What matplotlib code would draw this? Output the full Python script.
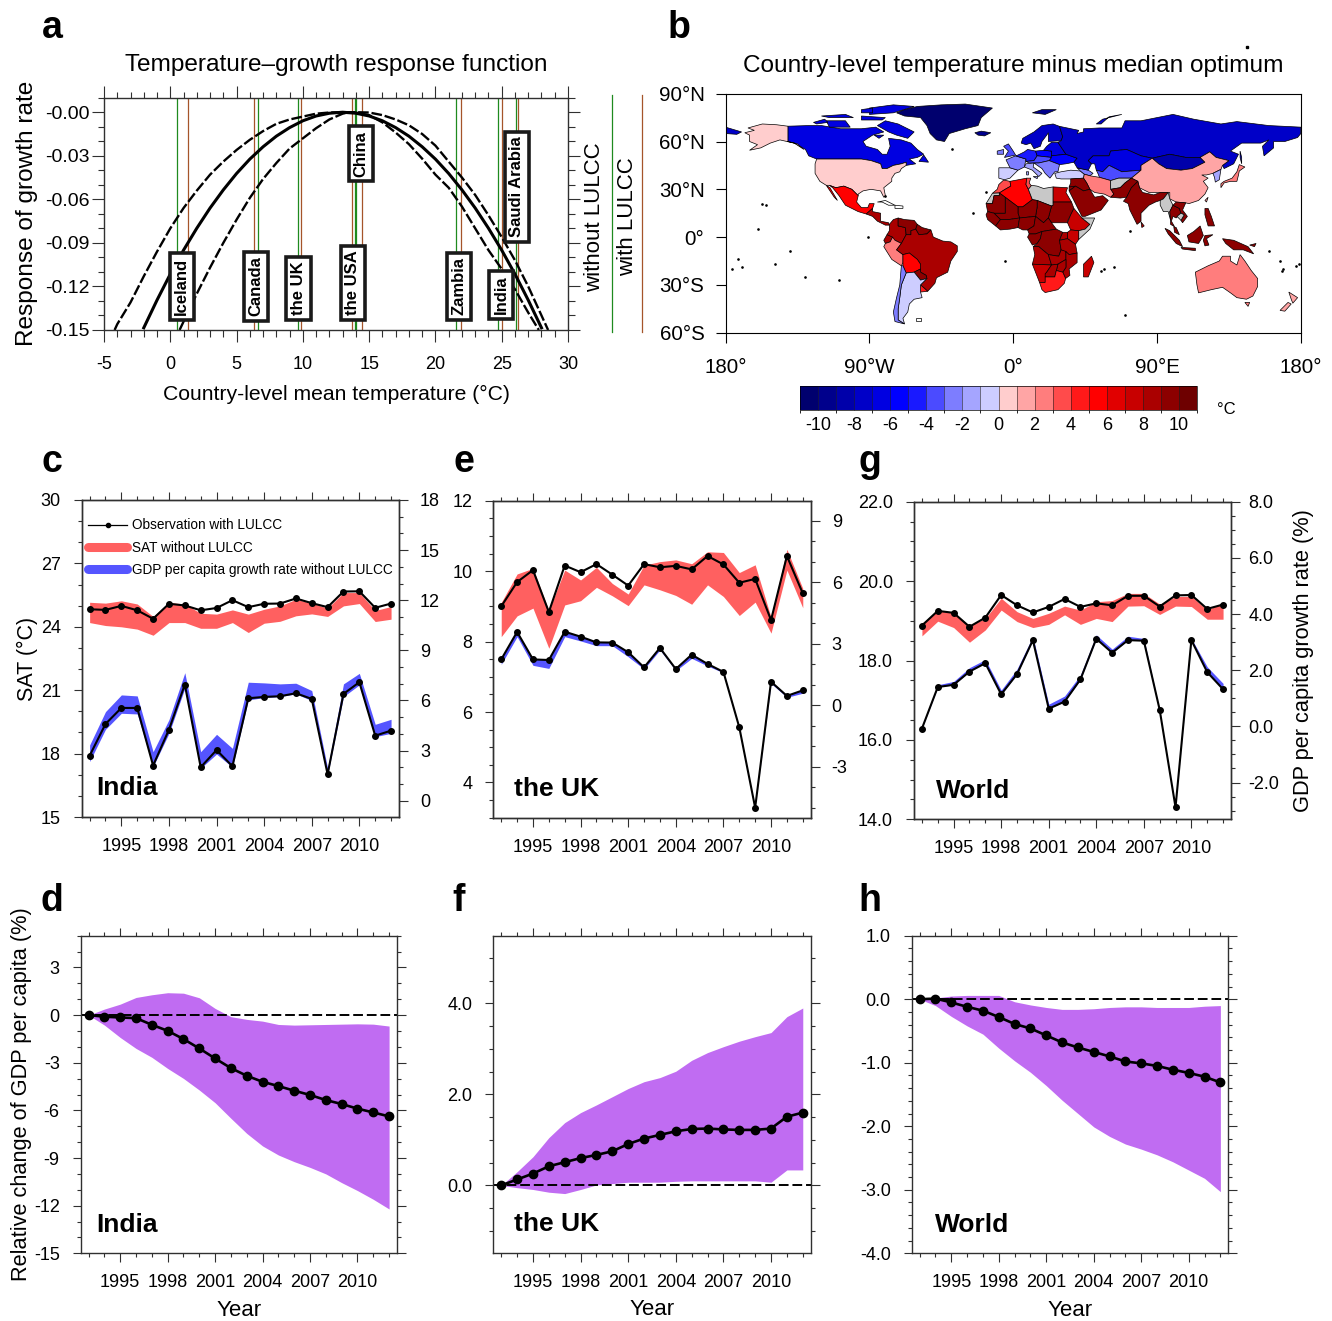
import matplotlib
matplotlib.use("Agg")
import matplotlib.pyplot as plt
import numpy as np
from matplotlib.colors import BoundaryNorm, ListedColormap
from matplotlib.lines import Line2D
from matplotlib.ticker import MultipleLocator

plt.rcParams["font.family"] = ["Liberation Sans", "DejaVu Sans"]

W, H = 1332, 1321

# panel a
curve_x = [-2, -1, 0, 1, 2, 3, 4, 5, 6, 7, 8, 9, 10, 11, 12, 13, 14, 15, 16, 17, 18, 19, 20, 21, 22, 23, 24, 25, 26, 27, 28]
curve_mid = [-.1485, -.1294, -.1115, -.0950, -.0799, -.066, -.0535, -.0422, -.0323, -.0238, -.0165, -.0106, -.0059, -.0026,
             -.0007, 0, -.0007, -.0026, -.0059, -.0106, -.0165, -.0238, -.0323, -.0422, -.0535, -.066, -.0799, -.0950,
             -.1115, -.1294, -.1485]
upper_x = [-4.2, -4, -3, -2, -1, 0, 1, 2, 3, 4, 5, 6, 7, 8, 9, 10, 11, 12, 13, 14, 15, 16, 17, 18, 19, 20, 21, 22, 23, 24, 25, 26, 27, 28, 28.5]
upper_y = [-.15, -.146, -.131, -.113, -.096, -.08, -.066, -.054, -.043, -.034, -.026, -.019, -.013, -.008, -.005, -.003, -.001,
           -.0002, 0, 0, -.0002, -.002, -.005, -.009, -.015, -.023, -.034, -.045, -.057, -.071, -.086, -.102, -.12, -.14, -.15]
lower_x = [0.7, 2, 3, 4, 5, 6, 7, 8, 9, 10, 11, 12, 13, 13.5, 14, 15, 16, 17, 18, 19, 20, 21, 22, 23, 24, 25, 26, 27, 27.8]
lower_y = [-.15, -.125, -.107, -.09, -.074, -.059, -.046, -.035, -.025, -.018, -.011, -.005, -.001, 0, -.0003, -.002, -.007,
           -.014, -.022, -.032, -.043, -.052, -.065, -.08, -.095, -.108, -.122, -.138, -.15]
countries = ["Iceland", "Canada", "the UK", "the USA", "China", "Zambia", "India", "Saudi Arabia"]
temp_without = [0.49, 6.59, 9.63, 13.92, 14.0, 21.57, 24.75, 26.05]
temp_with = [1.35, 6.3, 9.83, 13.67, 14.46, 21.95, 25.0, 26.25]
label_x = [0.87, 6.46, 9.67, 13.76, 14.4, 21.76, 24.97, 26.14]
label_y = [-.12, -.12, -.1214, -.1175, -.0287, -.12, -.126, -.0513]

# panels c-h
years = np.arange(1993, 2013)
tick_years = [1995, 1998, 2001, 2004, 2007, 2010]

india_sat = [24.83, 24.8, 24.99, 24.78, 24.38, 25.09, 25.01, 24.78, 24.89, 25.26, 24.93, 25.09, 25.1, 25.34, 25.12, 24.93, 25.67, 25.68, 24.9, 25.1]
india_sat_hi = [25.16, 25.12, 25.23, 25.08, 24.49, 25.15, 25.08, 24.64, 24.6, 24.8, 24.6, 24.83, 24.99, 25.3, 25.12, 24.88, 25.62, 25.62, 24.77, 24.96]
india_sat_lo = [24.2, 24.06, 24.0, 23.89, 23.6, 24.2, 24.2, 23.93, 23.93, 24.2, 23.73, 24.17, 24.26, 24.52, 24.61, 24.49, 24.99, 25.1, 24.25, 24.36]
india_gdp = [2.69, 4.59, 5.55, 5.55, 2.1, 4.25, 6.95, 2.0, 3.03, 2.06, 6.13, 6.21, 6.25, 6.43, 6.09, 1.58, 6.39, 7.09, 3.89, 4.19]
india_gdp_hi = [3.33, 5.33, 6.33, 6.27, 2.93, 4.85, 7.66, 2.93, 3.97, 3.13, 7.09, 7.05, 6.99, 7.03, 6.59, 1.94, 6.99, 7.62, 4.57, 4.87]
india_gdp_lo = [2.34, 4.27, 5.23, 5.19, 2.04, 4.03, 6.73, 1.94, 2.79, 2.0, 6.03, 6.17, 6.23, 6.39, 5.99, 1.54, 6.23, 6.93, 3.83, 4.03]

uk_sat = [9.0, 9.69, 10.03, 8.84, 10.16, 9.97, 10.2, 9.9, 9.59, 10.2, 10.11, 10.15, 10.05, 10.43, 10.19, 9.67, 9.78, 8.61, 10.43, 9.37]
uk_sat_hi = [9.11, 9.92, 10.08, 8.88, 10.03, 9.75, 10.11, 9.65, 9.35, 10.17, 10.27, 10.32, 10.21, 10.55, 10.53, 9.96, 10.18, 8.69, 10.62, 9.51]
uk_sat_lo = [8.14, 8.73, 8.95, 7.81, 9.04, 9.16, 9.54, 9.3, 9.02, 9.61, 9.47, 9.31, 9.06, 9.61, 9.28, 8.74, 9.12, 8.24, 10.03, 8.96]
uk_gdp = [2.24, 3.58, 2.24, 2.21, 3.59, 3.35, 3.07, 3.06, 2.59, 1.85, 2.8, 1.77, 2.47, 2.02, 1.63, -1.07, -4.99, 1.15, 0.46, 0.73]
uk_gdp_hi = [2.26, 3.6, 2.26, 2.23, 3.61, 3.37, 3.09, 3.08, 2.61, 1.87, 2.82, 1.79, 2.49, 2.04, 1.65, -1.07, -4.99, 1.18, 0.49, 0.76]
uk_gdp_lo = [2.0, 3.35, 1.95, 1.8, 3.35, 3.14, 2.91, 2.91, 2.37, 1.77, 2.7, 1.69, 2.29, 1.92, 1.59, -1.07, -4.99, 1.07, 0.39, 0.59]

world_sat = [18.88, 19.25, 19.2, 18.85, 19.08, 19.65, 19.39, 19.21, 19.35, 19.55, 19.35, 19.44, 19.39, 19.63, 19.63, 19.36, 19.64, 19.65, 19.3, 19.41]
world_sat_hi = [18.94, 19.25, 19.2, 18.88, 19.06, 19.57, 19.23, 19.06, 19.19, 19.37, 19.27, 19.48, 19.51, 19.69, 19.69, 19.42, 19.61, 19.62, 19.27, 19.46]
world_sat_lo = [18.62, 18.99, 18.83, 18.46, 18.77, 19.27, 18.98, 18.83, 18.91, 19.15, 18.91, 19.06, 18.98, 19.37, 19.38, 19.16, 19.37, 19.36, 19.04, 19.04]
world_gdp = [-0.08, 1.4, 1.48, 1.95, 2.25, 1.14, 1.86, 3.07, 0.63, 0.88, 1.67, 3.12, 2.62, 3.07, 3.05, 0.59, -2.88, 3.07, 1.93, 1.32]
world_gdp_hi = [-0.08, 1.48, 1.6, 2.09, 2.38, 1.29, 2.04, 3.21, 0.79, 1.08, 1.83, 3.26, 2.75, 3.21, 3.13, 0.59, -2.88, 3.13, 2.12, 1.53]

india_rel = [0, -0.1, -0.15, -0.19, -0.61, -0.99, -1.51, -2.1, -2.73, -3.34, -3.82, -4.2, -4.47, -4.76, -5.03, -5.35, -5.6, -5.89, -6.13, -6.38]
india_rel_hi = [0, .38, .69, 1.11, 1.28, 1.41, 1.38, 1.09, .42, -.1, -.27, -.38, -.59, -.63, -.61, -.59, -.57, -.55, -.57, -.69]
india_rel_lo = [0, -.63, -1.41, -2.1, -2.66, -3.36, -3.99, -4.72, -5.52, -6.5, -7.45, -8.24, -8.81, -9.23, -9.59, -10.0, -10.55, -11.05, -11.6, -12.21]
uk_rel = [0, .13, .26, .42, .51, .6, .67, .75, .91, 1.03, 1.11, 1.19, 1.24, 1.25, 1.23, 1.22, 1.22, 1.25, 1.51, 1.6]
uk_rel_hi = [0, .3, .63, 1.05, 1.38, 1.6, 1.77, 1.95, 2.13, 2.28, 2.37, 2.51, 2.75, 2.92, 3.05, 3.17, 3.27, 3.36, 3.71, 3.9]
uk_rel_lo = [0, -.05, -.09, -.15, -.18, -.09, .01, .04, .07, .07, .07, .09, .1, .1, .1, .1, .1, .07, .34, .34]
world_rel = [0, .01, -.05, -.12, -.18, -.28, -.39, -.46, -.57, -.68, -.76, -.83, -.9, -.98, -1.01, -1.05, -1.11, -1.16, -1.22, -1.31]
world_rel_hi = [0, .02, .05, .06, .06, .06, -.04, -.09, -.13, -.16, -.16, -.15, -.13, -.12, -.12, -.13, -.13, -.13, -.11, -.1]
world_rel_lo = [0, -.1, -.27, -.42, -.55, -.77, -.97, -1.15, -1.36, -1.59, -1.8, -2.01, -2.16, -2.28, -2.36, -2.45, -2.56, -2.69, -2.82, -3.03]

# panel b: colour levels and coarse country outlines (lon, lat)
level_edges = np.arange(-11, 12)
level_colors = ["#00006e", "#00008c", "#0000aa", "#0000c8", "#0000e1", "#0000ff", "#1919ff", "#4b4bff", "#7d7dff", "#a5a5ff",
                "#cdcdff", "#ffcdcd", "#ffa5a5", "#ff7d7d", "#ff4b4b", "#ff1919", "#ff0000", "#e10000", "#c80000", "#aa0000",
                "#8c0000", "#6e0000"]
country_temp = {
    "Greenland": -10.5, "Iceland": -9.5, "Svalbard": -9.5, "Canada": -6.5, "Baffin": -6.5, "Victoria": -6.5, "Ellesmere": -6.5,
    "Banks": -6.5, "Devon": -6.5, "Newfoundland": -6.5, "Southampton": -6.5, "Axel": -6.5, "Parry": -6.5, "USA": 0.5, "Alaska": 0.5,
    "Mexico": 5.5, "Baja": 5.5, "CentralAm": 8.5, "Colombia": 8.5,
    "Venezuela": 9.5, "Guianas": 9.5, "Ecuador": 8.5, "Peru": 2.5, "Brazil": 8.5, "Bolivia": 5.5, "Paraguay": 9.5,
    "Uruguay": 4.5, "Argentina": -0.5, "Chile": -2.5, "Morocco": 3.5, "WSahara": None, "Algeria": 5.5, "Tunisia": 3.5,
    "Libya": None, "Egypt": 7.5, "Sudan": 9.5, "Chad": 9.5, "Niger": 9.5, "Mali": 9.5, "Mauritania": 9.5, "Senegal": 9.5,
    "Guinea": 9.5, "Nigeria": 9.5, "Cameroon": 9.5, "Gabon": 9.5, "DRC": 9.5, "Ethiopia": 7.5, "Somalia": None, "Kenya": 7.5,
    "Uganda": 8.5, "Tanzania": 8.5, "Angola": 8.5, "Zambia": 8.5, "Mozambique": 8.5, "Zimbabwe": 8.5, "Namibia": 7.5,
    "Botswana": 8.5, "SouthAfrica": 4.5, "Madagascar": 7.5, "Spain": -0.5, "France": -2.5, "UK": -3.5, "Ireland": -2.5,
    "Germany": -4.5, "Poland": -5.5, "Baltics": -6.5, "Ukraine": -5.5, "CentralEu": -3.5, "Italy": -1.5, "Sicily": -1.5,
    "Sardinia": -1.5, "Balkans": -2.5, "Caucasus": -2.5, "Levant": 9.5,
    "Turkey": -0.5, "Nordic": -7.5, "Russia": -7.5, "Chukotka": -7.5, "Sakhalin": -7.5, "NovayaZ": -7.5, "Kazakhstan": -6.5,
    "Uzbek": -3.5, "Mongolia": -8.5, "China": 1.5, "Korea": -1.5, "Taiwan": 1.5, "Japan": 2.5, "Iran": 2.5, "Iraq": 9.5, "Saudi": 9.5,
    "Afghanistan": None, "Pakistan": 9.5, "India": 9.5, "SriLanka": 8.5, "Myanmar": None, "Thailand": 9.5, "Vietnam": 9.5,
    "Cambodia": None, "Malaya": 9.5, "Sumatra": 9.5, "Java": 9.5, "Borneo": 9.5, "Sulawesi": 9.5, "Philippines": 9.5,
    "NewGuinea": 9.5, "NewBritain": 9.5, "Australia": 2.5, "Tasmania": 2.5, "NZNorth": 1.5, "NZSouth": 1.5,
}
outlines = {
    "Greenland": [(-73, 78), (-68, 80), (-60, 82), (-45, 83), (-30, 83.5), (-13, 81), (-20, 75), (-22, 70), (-30, 68), (-40, 65), (-43, 60), (-48, 61), (-52, 65), (-54, 70), (-58, 75), (-68, 76)],
    "Iceland": [(-24, 65.5), (-20, 66.5), (-14, 65.5), (-18, 63.5), (-22, 64)],
    "Svalbard": [(12, 78), (18, 80), (27, 80), (20, 77)],
    "Canada": [(-141, 69.6), (-141, 60), (-137, 59), (-130, 55), (-128, 51), (-123, 49), (-95, 49), (-89, 48), (-83, 46), (-82, 43), (-79, 43), (-75, 45), (-70, 46), (-67, 47), (-67, 45), (-61, 46), (-65, 49), (-60, 50), (-56, 52), (-60, 55), (-64, 59), (-70, 61), (-78, 62), (-77, 57), (-79, 52), (-82, 52), (-85, 55), (-92, 57), (-94, 60), (-88, 64), (-81, 66), (-86, 69), (-95, 68), (-108, 68), (-120, 70), (-128, 70)],
    "Baffin": [(-80, 73), (-72, 71), (-62, 66), (-66, 62), (-73, 64), (-78, 66), (-85, 70)],
    "Victoria": [(-117, 73), (-105, 73), (-102, 69), (-115, 69)],
    "Ellesmere": [(-90, 77), (-75, 78), (-62, 82), (-75, 83), (-90, 81)],
    "Banks": [(-125, 72), (-118, 74), (-116, 72), (-123, 71)],
    "Devon": [(-95, 76), (-80, 75), (-82, 73.5), (-95, 73.5)],
    "Newfoundland": [(-59, 47.5), (-53, 47), (-56, 51.5)],
    "Southampton": [(-87, 64), (-81, 64), (-84, 62)],
    "Axel": [(-95, 80), (-88, 81), (-88, 78), (-95, 78)],
    "Parry": [(-120, 76), (-105, 77), (-100, 75), (-115, 75)],
    "USA": [(-123, 49), (-95, 49), (-89, 48), (-83, 46), (-82, 43), (-79, 43), (-75, 45), (-70, 46), (-67, 47), (-67, 45), (-70, 43), (-71, 41), (-74, 40), (-76, 37), (-76, 35), (-81, 31), (-80, 26), (-81, 25), (-83, 29), (-89, 30), (-94, 29), (-97, 27), (-97, 26), (-101, 30), (-106, 32), (-111, 31), (-115, 32.5), (-117, 32.5), (-121, 35), (-124, 40), (-124, 46)],
    "Alaska": [(-141, 69.6), (-141, 60), (-137, 59), (-131, 55), (-135, 58.5), (-146, 61), (-152, 59), (-158, 56), (-165, 54.5), (-160, 58), (-165, 60), (-165, 64), (-168, 65.5), (-162, 67), (-166, 68.5), (-157, 71), (-148, 70.5)],
    "Mexico": [(-115, 32.5), (-111, 31), (-106, 32), (-101, 30), (-97, 26), (-98, 22), (-95, 18.5), (-91, 18.5), (-90, 21), (-87, 21), (-88, 18), (-92, 14.5), (-97, 16), (-105, 20), (-109, 26), (-113, 31)],
    "Baja": [(-117, 32.5), (-114.7, 31), (-110, 23), (-112, 25)],
    "CentralAm": [(-92, 14.5), (-88, 18), (-88, 16), (-83, 15), (-83, 10), (-78, 9), (-77.5, 7.5), (-80, 7.5), (-85, 10), (-88, 13)],
    "Colombia": [(-77.5, 8), (-75, 11), (-72, 12), (-72, 7), (-67.5, 6), (-67, 1.5), (-70, -4), (-74, -2), (-79, 1.5), (-77.5, 4)],
    "Venezuela": [(-72, 12), (-68, 11), (-62, 10.5), (-60, 8), (-61, 5), (-64, 4), (-64, 1.5), (-67, 1.5), (-67.5, 6), (-72, 7)],
    "Guianas": [(-60, 8), (-57, 6), (-51.5, 4.5), (-54, 2), (-59, 1.5), (-61, 5)],
    "Ecuador": [(-79, 1.5), (-75.5, 0), (-77, -3), (-80, -4), (-81, -2)],
    "Peru": [(-80, -4), (-77, -3), (-75.5, 0), (-74, -2), (-70, -4), (-73, -8), (-69, -11), (-69, -16), (-70, -18), (-76, -14), (-81, -6)],
    "Brazil": [(-70, -4), (-67, 1.5), (-64, 1.5), (-64, 4), (-61, 5), (-59, 1.5), (-54, 2), (-51.5, 4.5), (-50, 0), (-44, -2.5), (-39, -3), (-35, -5.5), (-35, -9), (-39, -15), (-41, -22), (-48, -25.5), (-49, -29), (-53.5, -34), (-58, -30), (-54, -26), (-54.5, -24), (-58, -22), (-58, -17), (-60, -14), (-65, -10), (-69, -11), (-73, -8)],
    "Bolivia": [(-69, -11), (-65, -10), (-60, -14), (-58, -17), (-58, -20), (-62, -22), (-67, -22.5), (-69, -18), (-69, -16)],
    "Paraguay": [(-58, -20), (-58, -22), (-54.5, -24), (-54, -26), (-58, -27), (-62, -22)],
    "Uruguay": [(-58, -30), (-53.5, -34), (-58, -34.5)],
    "Argentina": [(-67, -22.5), (-62, -22), (-58, -27), (-54, -26), (-58, -30), (-58, -34.5), (-57, -38), (-62, -39), (-65, -42), (-66, -47), (-69, -51), (-68, -54.5), (-72, -52), (-72, -45), (-71, -38), (-70, -30)],
    "Chile": [(-70, -18), (-69, -18), (-67, -22.5), (-70, -30), (-71, -38), (-72, -45), (-72, -52), (-68, -54.5), (-74, -53), (-75, -47), (-73, -38), (-71, -30)],
    "Morocco": [(-13, 27.5), (-10, 30), (-9, 33), (-6, 35.8), (-2, 35), (-1.5, 32), (-5, 30), (-8.7, 27.7)],
    "WSahara": [(-17, 21), (-13, 27.5), (-8.7, 27.7), (-8.7, 26), (-12, 26), (-13, 21)],
    "Algeria": [(-8.7, 27.7), (-5, 30), (-1.5, 32), (-2, 35), (8.5, 37), (8, 33), (9.5, 30), (12, 23.5), (6, 19), (3, 19), (-5, 25)],
    "Tunisia": [(8.5, 37), (11, 37), (10, 34), (11.5, 32), (9.5, 30), (8, 33)],
    "Libya": [(9.5, 30), (11.5, 32.5), (15, 32), (19, 30.5), (25, 31.5), (25, 20), (24, 19.5), (15, 23), (12, 23.5)],
    "Egypt": [(25, 31.5), (34, 31), (33, 28), (36.5, 22), (25, 22)],
    "Sudan": [(25, 22), (36.5, 22), (38, 18), (36, 14), (34, 10), (34, 9), (24, 9), (22, 12), (24, 19.5), (25, 20)],
    "Chad": [(15, 23), (24, 19.5), (22, 12), (19, 9), (14, 13), (15, 19)],
    "Niger": [(12, 23.5), (15, 23), (15, 19), (14, 13), (4, 12), (3, 15), (3, 19), (6, 19)],
    "Mali": [(-5, 25), (3, 19), (3, 15), (4, 12), (-3, 11), (-8, 11), (-12, 15), (-5, 15)],
    "Mauritania": [(-17, 21), (-13, 21), (-12, 26), (-8.7, 26), (-8.7, 27.7), (-5, 25), (-5, 15), (-12, 15), (-16, 16)],
    "Senegal": [(-16, 16), (-12, 15), (-8, 11), (-11, 7), (-16, 11), (-17, 14)],
    "Guinea": [(-11, 7), (-8, 11), (-3, 11), (4, 12), (3, 6), (-2, 5), (-8, 4.5)],
    "Nigeria": [(3, 6), (4, 12), (14, 13), (13, 7), (9, 4.5), (6, 4.5)],
    "Cameroon": [(9, 4.5), (13, 7), (14, 13), (19, 9), (22, 12), (24, 9), (27, 5), (18, 3.5), (14, 2), (10, 2)],
    "Gabon": [(9, 0), (10, 2), (14, 2), (18, 3.5), (17, -1), (15, -4), (12, -5)],
    "DRC": [(18, 3.5), (27, 5), (31, 3), (29, -2), (30, -8), (28.5, -12), (22, -11), (16, -6), (12.5, -6), (15, -4), (17, -1)],
    "Ethiopia": [(34, 9), (36, 14), (38, 18), (43, 12), (48, 8), (45, 5), (41, 4), (36, 4.5)],
    "Somalia": [(43, 12), (51, 12), (48, 5), (41, -1.5), (41, 4), (45, 5), (48, 8)],
    "Kenya": [(36, 4.5), (41, 4), (41, -1.5), (39, -4.5), (34, -1), (34, 3)],
    "Uganda": [(31, 3), (34, 3), (34, -1), (29, -2)],
    "Tanzania": [(29, -2), (34, -1), (39, -4.5), (40, -10), (35, -11), (30, -8)],
    "Angola": [(12.5, -6), (16, -6), (22, -11), (24, -17.5), (12, -17), (13.5, -11)],
    "Zambia": [(22, -11), (28.5, -12), (30, -8), (33, -9), (33, -14), (28, -17), (24, -17.5)],
    "Mozambique": [(33, -9), (35, -11), (40, -10), (40, -16), (35, -20), (35.5, -24), (32.8, -26), (31, -22), (33, -19), (33, -14)],
    "Zimbabwe": [(28, -17), (33, -14), (33, -19), (31, -22), (27, -21)],
    "Namibia": [(12, -17), (24, -17.5), (21, -22), (20, -28.5), (16.5, -28.5)],
    "Botswana": [(21, -22), (24, -17.5), (28, -17), (27, -21), (26, -25), (20, -25), (20, -23)],
    "SouthAfrica": [(16.5, -28.5), (20, -28.5), (20, -25), (26, -25), (27, -21), (31, -22), (32.8, -26), (32, -29), (28, -33), (20, -34.8), (18, -33)],
    "Madagascar": [(49, -12), (50.5, -16), (47, -25), (44, -25), (44, -17)],
    "Spain": [(-9, 43.5), (-2, 43.5), (3, 42), (0, 39), (-2, 37), (-5.5, 36), (-9, 37)],
    "France": [(-2, 43.5), (-4.5, 48.5), (1.5, 51), (8, 49), (7, 44), (3, 42)],
    "UK": [(-5.5, 50), (1.5, 51.5), (0, 54), (-3, 58.5), (-6, 57), (-3, 54)],
    "Ireland": [(-10, 52), (-6, 52), (-6, 55), (-10, 54)],
    "Germany": [(1.5, 51), (3, 51.5), (7, 53.5), (9, 55), (14, 54), (15, 51), (13, 48), (8, 47.5), (8, 49)],
    "Poland": [(14, 54), (19, 54.5), (24, 54), (24, 50), (15, 51)],
    "Baltics": [(19, 54.5), (21, 57), (24, 59.5), (28, 59.5), (33, 52), (24, 51), (24, 54)],
    "Ukraine": [(24, 51), (33, 52), (40, 49.5), (38, 47), (33, 46), (29, 45.5), (22.5, 48)],
    "CentralEu": [(8, 47.5), (13, 48), (15, 51), (24, 50), (22.5, 48), (16, 46.5), (10, 46.5)],
    "Italy": [(7, 44), (8, 46), (13, 46.5), (12.5, 44), (18, 40), (16, 38), (12, 42)],
    "Sicily": [(12.5, 38), (15.5, 38), (15, 36.7)],
    "Sardinia": [(8.2, 41), (9.7, 41), (9.5, 39), (8.4, 39)],
    "Balkans": [(13, 46.5), (16, 46.5), (22.5, 48), (29, 45.5), (28, 41), (26, 41), (23, 37), (20, 40), (18, 43)],
    "Turkey": [(26, 40), (30, 41), (36, 42), (42, 41.5), (44.5, 39.5), (44, 37), (36, 36.5), (30, 36.5), (27, 37)],
    "Caucasus": [(40, 43.5), (47, 42), (50, 40), (48, 38.5), (44.5, 39.5), (42, 41.5)],
    "Levant": [(35, 29), (39, 32), (35, 31.5)],
    "Nordic": [(5, 59), (8, 58), (11, 59), (13, 55.5), (17, 57), (18, 60), (21, 64), (22, 65.5), (22, 60), (30, 60.5), (31, 63), (29, 69.5), (25, 71), (18, 70), (13, 66), (6, 62)],
    "Russia": [(28, 59.5), (30, 60.5), (31, 63), (29, 69.5), (41, 67), (40, 65), (44, 66), (44, 68), (54, 68.5), (68, 68.5), (70, 73), (80, 73), (100, 77), (113, 74), (130, 71), (140, 72.5), (160, 70), (180, 69), (180, 65), (178, 62.5), (170, 60), (163, 60), (163, 56), (157, 51), (156, 57), (160, 61), (155, 59), (143, 59), (136, 54), (141, 52), (138, 46), (132, 43), (131, 45), (135, 48), (127, 50), (123, 53.5), (117, 50), (108, 50), (98, 52), (87, 49.5), (80, 51), (71, 55), (61, 54), (60, 51), (50, 51), (47, 48), (49, 46), (47, 42), (40, 43.5), (38, 47), (40, 49.5), (33, 52)],
    "Chukotka": [(-180, 69), (-170, 66), (-173, 64.5), (-180, 65)],
    "Sakhalin": [(142, 54), (143, 50), (143, 46), (142, 50)],
    "NovayaZ": [(52, 71), (56, 74), (68, 77), (60, 75.5), (55, 71)],
    "Kazakhstan": [(47, 48), (50, 51), (60, 51), (61, 54), (71, 55), (80, 51), (87, 49.5), (80, 45), (80, 42), (68, 41), (60, 45), (56, 41), (52, 42), (51, 46), (49, 46)],
    "Uzbek": [(52, 42), (56, 41), (60, 45), (68, 41), (80, 42), (74, 37), (66, 37), (61, 35.5), (54, 37.5), (53, 40)],
    "Mongolia": [(87, 49.5), (98, 52), (108, 50), (117, 50), (120, 47), (112, 43), (105, 42), (96, 43), (91, 46)],
    "China": [(74, 37), (80, 42), (80, 45), (87, 49.5), (91, 46), (96, 43), (105, 42), (112, 43), (120, 47), (117, 50), (123, 53.5), (127, 50), (135, 48), (131, 45), (130, 42.5), (125, 40), (121, 39), (118, 39), (122, 37), (119, 35), (122, 31), (120, 27), (116, 23), (110, 21), (108, 21.5), (102, 22), (98, 24), (98, 28), (92, 28), (85, 28), (79, 31), (78, 35)],
    "Korea": [(125, 40), (130, 42.5), (129, 36), (126.5, 34.5), (126, 37.5)],
    "Taiwan": [(120, 23), (122, 25), (121, 22)],
    "Japan": [(130, 31), (132, 34), (136, 35), (140, 35), (141, 39), (141.5, 41.5), (145, 44), (141.5, 45.5), (140, 41), (137, 37), (132, 35), (130, 33.5)],
    "Iran": [(44.5, 39.5), (48, 38.5), (54, 37.5), (61, 35.5), (61, 31), (63, 27), (61, 25), (57, 27), (51, 28), (48, 30), (46, 34), (44, 37)],
    "Iraq": [(36, 36.5), (44, 37), (46, 34), (48, 30), (44, 29), (39, 32), (35, 31.5), (36, 34)],
    "Saudi": [(35, 29), (39, 32), (44, 29), (48, 30), (51, 25), (56, 26), (59.5, 23), (55, 17), (45, 13), (43, 13), (39, 21)],
    "Afghanistan": [(61, 35.5), (66, 37), (74, 37), (70, 34), (67, 31), (61, 30), (61, 31)],
    "Pakistan": [(61, 30), (67, 31), (70, 34), (74, 37), (78, 35), (74, 31), (71, 25), (67, 24.5), (61, 25), (63, 27)],
    "India": [(74, 31), (78, 35), (79, 31), (81, 28), (88, 26.5), (92, 28), (97, 28), (94, 24), (92, 23), (89, 22), (85, 20), (80, 15), (80, 10), (77.5, 8), (73, 17), (72, 21), (69, 22.5), (71, 25)],
    "SriLanka": [(80, 9.5), (82, 7), (80.5, 6)],
    "Myanmar": [(92, 23), (94, 24), (97, 28), (98, 24), (100, 20), (98, 16), (98.5, 10.5), (97, 16), (94, 16), (92, 20)],
    "Thailand": [(98, 16), (100, 20), (104, 18), (105, 15), (102, 12), (100, 13), (99, 10), (101, 6.5), (98.5, 8), (98.5, 10.5)],
    "Vietnam": [(102, 22), (108, 21.5), (106, 17), (109, 13), (106, 9), (105, 10.5), (107, 14), (105, 15), (104, 18), (100, 20)],
    "Cambodia": [(102.5, 13), (105, 15), (107, 14), (105, 10.5)],
    "Malaya": [(100.5, 6.5), (102, 6), (104, 1.5), (101, 3)],
    "Sumatra": [(95, 5.5), (98, 4), (104, -2), (106, -6), (102, -4), (97, 2)],
    "Java": [(105, -6.5), (114, -7), (114, -8.5), (106, -7.5)],
    "Borneo": [(109, 1), (113, 3.5), (117, 7), (119, 1), (116, -4), (110, -3)],
    "Sulawesi": [(120, 1), (125, 1.5), (121, -1), (122.5, -5), (120, -5.5), (119, -2)],
    "Philippines": [(120, 18), (122, 18), (124, 13), (126, 7), (122, 7), (120, 14)],
    "NewGuinea": [(131, -1), (138, -2), (147, -6), (150.5, -10.5), (144, -8), (138, -8), (133, -4)],
    "NewBritain": [(148, -5), (152, -4), (151, -6)],
    "Australia": [(114, -22), (122, -18), (129, -15), (131, -12), (136, -12), (136, -15), (140, -17.5), (142, -11), (145, -15), (149, -21), (153, -26), (153, -31), (150, -37), (146, -39), (140, -38), (136, -35), (131, -31.5), (124, -33), (116, -35), (115, -30)],
    "Tasmania": [(145, -41), (148, -41), (147, -43.5)],
    "NZNorth": [(172.5, -34.5), (178, -38), (175, -41.5), (174, -39)],
    "NZSouth": [(172, -41), (174, -42), (170, -46.5), (167, -46)],
}
white_islands = [
    [(-85, 22), (-80, 23), (-74, 20), (-78, 20), (-82, 22)],
    [(-74, 20), (-69, 19.5), (-69, 18), (-74, 18)],
    [(-61, -51), (-58, -51), (-58, -52.5), (-61, -52.5)],
]
speck_lon = [-155, -157, -172, -170, -149, -140, -130, -109, -91, -80, -38, -25, -17, -5, 55, 57, 63, 70, 73, 160, 167, 169, 177, 179, 168, -176, -160]
speck_lat = [20, 21, -14, -19, -17, -9, -25, -27, 0, 26, 55, 15, 28, -15, -21, -20, -19, -49, 4, -9, -15, -20, -18, -17, -21, -20, 5]


def axes_px(left, top, right, bottom):
    return fig.add_axes([left / W, 1 - bottom / H, (right - left) / W, (bottom - top) / H])


def px_text(x, y, s, **kw):
    fig.text(x / W, 1 - y / H, s, **kw)


def line_style(ax, major=8.5, minor=4.2, pad=9):
    for sp in ax.spines.values():
        sp.set_color("#303030")
        sp.set_linewidth(1.0)
    for which, size in (("major", major), ("minor", minor)):
        ax.tick_params(which=which, direction="out", length=size * 0.72, width=0.8, color="#303030",
                       labelsize=13, pad=pad)


def year_axis(ax):
    ax.set_xlim(1992.5, 2012.5)
    ax.set_xticks(tick_years, labels=[str(y) for y in tick_years])
    ax.set_xticks(years, minor=True)
    ax.tick_params(axis="x", which="both", top=True)
    ax.tick_params(axis="x", which="major", pad=9)


fig = plt.figure(figsize=(W / 100, H / 100), dpi=100)

# ---- a: response function ----
ax = axes_px(104, 97.7, 568, 330)
line_style(ax, major=12, minor=6.5, pad=2)
for x in temp_without:
    ax.axvline(x, color="#1f8a1f", lw=0.9)
for x in temp_with:
    ax.axvline(x, color="#a5552a", lw=0.9)
ax.plot(curve_x, curve_mid, color="k", lw=2.2)
ax.plot(upper_x, upper_y, color="k", lw=1.7, dashes=(4.5, 1.2))
ax.plot(lower_x, lower_y, color="k", lw=1.7, dashes=(4.5, 1.2))
ax.set_xlim(-5, 30)
ax.set_ylim(-0.15, 0.01)
x_major = [-5, 0, 5, 10, 15, 20, 25, 30]
ax.set_xticks(x_major, labels=[str(v) for v in x_major])
ax.set_yticks([0, -.03, -.06, -.09, -.12, -.15], labels=["-0.00", "-0.03", "-0.06", "-0.09", "-0.12", "-0.15"])
ax.xaxis.set_minor_locator(MultipleLocator(1))
ax.yaxis.set_minor_locator(MultipleLocator(0.01))
ax.tick_params(which="both", top=True, right=True)
ax.tick_params(axis="y", which="major", labelsize=14)
ax.tick_params(axis="x", which="major", pad=10)
ax.set_xlabel("Country-level mean temperature (°C)", fontsize=15.2, labelpad=8.5)
ax.set_ylabel("Response of growth rate", fontsize=17.6, labelpad=4.5)
ax.set_title("Temperature–growth response function", fontsize=17.6, pad=19)
for name, lx, ly in zip(countries, label_x, label_y):
    ax.text(lx, ly, name, rotation=90, ha="center", va="center", fontsize=12, fontweight="bold", zorder=5,
            bbox=dict(boxstyle="square,pad=0.28", fc="white", ec="#1a1a1a", lw=2.6))
fig.add_artist(Line2D([611.5 / W] * 2, [1 - 95 / H, 1 - 331.7 / H], color="#1f8a1f", lw=0.9))
fig.add_artist(Line2D([641.8 / W] * 2, [1 - 95 / H, 1 - 331.7 / H], color="#a5552a", lw=0.9))
px_text(595, 217, "without LULCC", rotation=90, ha="center", va="center", fontsize=16)
px_text(628, 217, "with LULCC", rotation=90, ha="center", va="center", fontsize=16)

# ---- b: map ----
cmap = ListedColormap(level_colors)
norm = BoundaryNorm(level_edges, cmap.N)
ax = axes_px(725.6, 93.7, 1300.8, 332.7)
for name, pts in outlines.items():
    val = country_temp[name]
    fc = "#c8c8c8" if val is None else cmap(norm(val))
    ax.fill(*zip(*pts), facecolor=fc, edgecolor="k", linewidth=0.5)
for pts in white_islands:
    ax.fill(*zip(*pts), facecolor="white", edgecolor="k", linewidth=0.5)
ax.plot(speck_lon, speck_lat, ls="none", marker="o", ms=0.9, color="k")
ax.set_xlim(-180, 180)
ax.set_ylim(-60, 90)
ax.set_xticks([-180, -90, 0, 90, 180], labels=["180°", "90°W", "0°", "90°E", "180°"])
ax.set_yticks([90, 60, 30, 0, -30, -60], labels=["90°N", "60°N", "30°N", "0°", "30°S", "60°S"])
ax.tick_params(direction="out", length=7.2, width=0.8, labelsize=14.8, pad=8)
ax.tick_params(axis="x", pad=11)
ax.set_title("Country-level temperature minus median optimum", fontsize=17.6, pad=15.5)

cax = axes_px(800, 386, 1197, 410)
cb = fig.colorbar(plt.cm.ScalarMappable(norm=norm, cmap=cmap), cax=cax, orientation="horizontal",
                  ticks=np.arange(-10, 11, 2), drawedges=True, spacing="uniform")
cb.ax.set_xticklabels([str(t) for t in range(-10, 11, 2)])
cb.ax.tick_params(length=0, labelsize=13, pad=5)
cb.outline.set_linewidth(0.5)
cb.dividers.set_linewidth(0.4)
cb.dividers.set_color("#202020")
px_text(1226, 409, "°C", ha="center", va="center", fontsize=12)
fig.add_artist(Line2D([1247 / W], [1 - 47 / H], color="k", ls="none", marker="s", ms=1.5))

# ---- c, e, g: SAT and growth rate ----
band_red = "#ff6060"
band_blue = "#5555ff"


def band_panel(box, name, sat, sat_hi, sat_lo, gdp, gdp_hi, gdp_lo, ylim, yticks, ylabels, yminor,
               ylim2, yticks2, ylabels2, yminor2, name_x, right_pad=9):
    ax = axes_px(*box)
    line_style(ax)
    year_axis(ax)
    ax.fill_between(years, sat_lo, sat_hi, color=band_red, lw=0)
    ax.plot(years, sat, color="k", lw=1.5, marker="o", ms=4)
    ax.set_ylim(*ylim)
    ax.set_yticks(yticks, labels=ylabels)
    ax.yaxis.set_minor_locator(MultipleLocator(yminor))
    ax2 = ax.twinx()
    line_style(ax2, pad=right_pad)
    ax2.fill_between(years, gdp_lo, gdp_hi, color=band_blue, lw=0)
    ax2.plot(years, gdp, color="k", lw=1.5, marker="o", ms=4)
    ax2.set_ylim(*ylim2)
    ax2.set_yticks(yticks2, labels=ylabels2)
    ax2.yaxis.set_minor_locator(MultipleLocator(yminor2))
    ax.text(name_x, 0.09, name, transform=ax.transAxes, fontsize=19, fontweight="bold", va="center")
    return ax, ax2


ax_c, ax_c2 = band_panel((81.7, 500, 399, 817), "India", india_sat, india_sat_hi, india_sat_lo, india_gdp, india_gdp_hi,
                         india_gdp_lo, (15, 30), [15, 18, 21, 24, 27, 30], ["15", "18", "21", "24", "27", "30"], 1,
                         (-0.98, 18), [0, 3, 6, 9, 12, 15, 18], ["0", "3", "6", "9", "12", "15", "18"], 1, 0.045)
ax_c.set_ylabel("SAT (°C)", fontsize=15.5, labelpad=1.5)
legend_handles = [Line2D([], [], color="k", lw=0.9, marker="o", ms=3),
                  Line2D([], [], color=band_red, lw=6.5, solid_capstyle="round"),
                  Line2D([], [], color=band_blue, lw=6.5, solid_capstyle="round")]
ax_c2.legend(legend_handles, ["Observation with LULCC", "SAT without LULCC", "GDP per capita growth rate without LULCC"],
             loc="upper left", bbox_to_anchor=(0.006, 0.955), frameon=False, fontsize=9.85, handlelength=2.9,
             handletextpad=0.35, labelspacing=0.6, borderaxespad=0, borderpad=0.3)

band_panel((493.3, 500.7, 810.7, 817.7), "the UK", uk_sat, uk_sat_hi, uk_sat_lo, uk_gdp, uk_gdp_hi, uk_gdp_lo,
           (3, 12), [4, 6, 8, 10, 12], ["4", "6", "8", "10", "12"], 0.5,
           (-5.48, 9.98), [-3, 0, 3, 6, 9], ["-3", "0", "3", "6", "9"], 1, 0.065)
ax_g, ax_g2 = band_panel((914, 501.7, 1231, 819.3), "World", world_sat, world_sat_hi, world_sat_lo, world_gdp,
                         world_gdp_hi, world_gdp, (14, 22), [14, 16, 18, 20, 22],
                         ["14.0", "16.0", "18.0", "20.0", "22.0"], 0.5,
                         (-3.31, 8), [-2, 0, 2, 4, 6, 8], ["-2.0", "0.0", "2.0", "4.0", "6.0", "8.0"], 0.5, 0.07,
                         right_pad=6.5)
ax_g2.set_ylabel("GDP per capita growth rate (%)", fontsize=15.7, labelpad=10)

# ---- d, f, h: relative GDP change ----
band_purple = "#c06cf2"


def rel_panel(box, name, rel, rel_hi, rel_lo, ylim, yticks, ylabels, yminor, name_x):
    ax = axes_px(*box)
    line_style(ax)
    year_axis(ax)
    ax.fill_between(years, rel_lo, rel_hi, color=band_purple, lw=0)
    ax.axhline(0, color="k", lw=1.4, dashes=(5, 2))
    ax.plot(years, rel, color="k", lw=1.9, marker="o", ms=6)
    ax.set_ylim(*ylim)
    ax.set_yticks(yticks, labels=ylabels)
    ax.yaxis.set_minor_locator(MultipleLocator(yminor))
    ax.tick_params(axis="y", which="both", right=True)
    ax.text(name_x, 0.09, name, transform=ax.transAxes, fontsize=19, fontweight="bold", va="center")
    ax.set_xlabel("Year", fontsize=16, labelpad=6)
    return ax


ax_d = rel_panel((80.7, 935.7, 397, 1253.3), "India", india_rel, india_rel_hi, india_rel_lo, (-15, 5),
                 [-15, -12, -9, -6, -3, 0, 3], ["-15", "-12", "-9", "-6", "-3", "0", "3"], 1, 0.05)
ax_d.set_ylabel("Relative change of GDP per capita (%)", fontsize=15.7, labelpad=1.5)
rel_panel((493.3, 935.7, 810.7, 1252.7), "the UK", uk_rel, uk_rel_hi, uk_rel_lo, (-1.48, 5.49),
          [0, 2, 4], ["0.0", "2.0", "4.0"], 0.5, 0.065)
rel_panel((911.7, 935.7, 1228.3, 1253.3), "World", world_rel, world_rel_hi, world_rel_lo, (-4, 1),
          [-4, -3, -2, -1, 0, 1], ["-4.0", "-3.0", "-2.0", "-1.0", "0.0", "1.0"], 0.2, 0.075)

# panel letters
panel_letters = ["a", "b", "c", "e", "g", "d", "f", "h"]
letter_x = [42, 668, 42, 453, 858, 41, 452, 858]
letter_y = [38, 38, 472, 472, 472, 911, 911, 911]
for s, x, y in zip(panel_letters, letter_x, letter_y):
    px_text(x, y, s, fontsize=27, fontweight="bold", va="baseline")

fig.savefig("out.png", dpi=100)
